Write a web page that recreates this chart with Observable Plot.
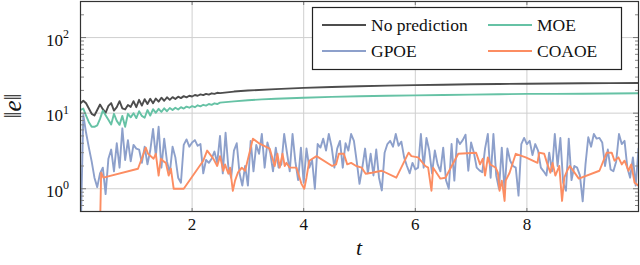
<!DOCTYPE html>
<html><head><meta charset="utf-8">
<script src="https://cdn.jsdelivr.net/npm/d3@7"></script>
<script src="https://cdn.jsdelivr.net/npm/@observablehq/plot@0.6"></script>
<style>
body{margin:0;background:#fff;}
#chart{position:relative;width:640px;height:265px;}
</style></head><body><div id="chart"></div>
<script>
// ---- data ----
const seriesNames = ["No prediction", "MOE", "GPOE", "COAOE"];
const seriesColors = ["#4d4d4d", "#66c2a5", "#8da0cb", "#fc8d62"];
const denseStep = 0.05;

// No prediction: dense samples t = 0, 0.05, ... 2.5, then sparse tail
const noPredDense = [13.5,14.6,13.5,11.5,9.8,9.3,11.0,13.0,11.3,10.1,12.5,13.6,10.8,12.0,14.4,11.6,11.2,12.8,12.1,14.4,12.0,15.0,12.6,15.3,13.2,15.5,13.5,15.6,14.2,16.0,14.6,16.2,15.0,16.3,15.4,16.5,15.8,16.8,16.2,17.0,16.6,17.4,17.0,17.7,17.3,18.0,17.6,18.3,18.0,18.6,18.4];
const noPredTailT = [2.75,3.0,3.5,4.0,4.5,5.0,5.5,6.0,6.5,7.0,7.5,8.0,8.5,9.0,9.5,10.0];
const noPredTail = [19.3,19.9,20.8,21.6,22.2,22.7,23.1,23.5,23.8,24.1,24.3,24.5,24.7,24.9,25.0,25.1];

// MOE
const moeDense = [11.0,11.5,9.3,7.6,6.6,6.6,6.9,8.4,10.8,9.4,8.2,7.1,9.8,7.9,7.0,9.2,6.6,9.8,8.8,10.0,8.6,10.6,9.2,8.7,11.0,9.3,11.3,10.1,11.4,10.4,11.6,10.6,11.7,11.0,11.8,11.2,12.0,11.5,12.2,11.8,12.4,12.0,12.7,12.3,12.9,12.6,13.2,12.9,13.5,13.2,13.8];
const moeTailT = [2.75,3.0,3.25,3.5,4.0,4.5,5.0,5.5,6.0,6.5,7.0,7.5,8.0,8.5,9.0,9.5,10.0];
const moeTail = [14.3,14.8,15.2,15.5,16.0,16.4,16.7,17.0,17.2,17.4,17.6,17.8,18.0,18.0,18.1,18.2,18.3];

// GPOE: t = 0, 0.05, ... 10
const gpoe = [0.2,
9.5,5.5,3.5,2.3,1.4,1.05,1.6,1.9,0.85,2.5,3.3,1.7,4.0,1.9,6.3,2.4,4.4,2.3,3.8,3.4,
3.3,2.2,3.6,2.1,3.2,6.2,2.7,6.6,1.9,4.6,2.3,1.6,3.6,2.6,1.4,1.2,3.8,4.5,3.6,4.1,
4.4,3.7,3.9,1.6,2.4,2.2,2.5,3.1,2.2,5.0,1.6,5.5,1.9,1.4,3.2,4.0,1.6,1.1,2.0,1.1,
4.3,1.7,3.8,2.9,5.3,1.9,4.1,3.0,1.7,3.5,1.9,2.1,5.3,3.0,1.7,5.3,2.3,1.3,3.5,1.2,
3.4,1.9,2.4,1.0,3.9,3.5,4.6,3.2,5.3,3.6,1.9,3.4,4.3,1.9,4.0,3.2,5.3,4.3,2.3,1.16,
1.9,3.4,1.6,2.9,1.5,3.3,1.4,0.95,3.0,3.9,4.3,3.6,5.3,3.7,4.2,2.6,2.0,1.6,2.2,1.8,
1.9,5.3,1.9,4.7,3.2,1.6,3.2,2.1,1.7,3.5,1.3,1.0,3.9,1.28,4.6,3.9,4.4,5.2,1.73,4.1,
3.0,1.9,1.75,1.65,3.4,5.3,1.4,5.3,1.5,1.0,3.5,0.94,3.4,2.35,2.0,1.9,0.81,3.9,4.7,3.9,
4.3,2.8,3.9,3.2,1.9,1.7,1.5,3.0,1.7,5.3,2.0,4.7,1.2,0.94,4.6,1.3,2.0,1.9,1.5,0.68,
2.1,4.8,3.6,5.3,4.6,4.7,4.1,2.0,3.3,1.8,1.7,2.3,5.3,3.9,4.3,1.9,1.4,2.6,1.1,3.4];

// COAOE: irregular sample times
const coaoeT = [0.35,0.37,0.41,1.03,1.17,1.21,1.31,1.35,1.40,1.44,1.49,1.53,1.58,1.62,1.67,1.85,2.20,2.27,2.38,2.45,2.50,2.56,2.59,2.65,2.68,2.73,2.77,2.82,2.89,2.95,3.09,3.21,3.39,3.48,3.53,3.57,3.62,3.66,3.69,3.75,3.87,3.96,4.01,4.05,4.10,4.23,4.51,4.58,4.63,4.72,4.78,4.85,4.94,5.04,5.11,5.22,5.40,5.66,5.88,5.93,6.05,6.18,6.23,6.29,6.32,6.45,6.54,6.77,7.09,7.16,7.21,7.25,7.30,7.34,7.39,7.44,7.48,7.51,7.55,7.57,7.60,7.62,7.69,7.80,7.98,8.19,8.22,8.31,8.36,8.42,8.46,8.51,8.58,8.63,8.67,8.72,8.77,8.93,9.30,9.43,9.52,9.57,9.64,9.70,9.75,9.82,9.87,9.93,10.0];
const coaoe = [0.3,1.63,1.40,1.84,3.5,2.9,2.5,2.9,1.49,2.5,2.3,2.2,1.49,1.84,1.0,1.0,2.35,3.2,2.5,2.0,2.7,1.73,2.1,1.58,1.9,0.94,1.28,1.63,1.9,1.73,4.6,3.95,3.4,2.0,2.9,1.9,2.9,2.0,2.2,1.9,1.9,1.16,1.0,1.40,2.35,2.7,2.0,2.1,2.9,2.9,2.1,2.2,2.0,1.9,1.58,1.63,1.73,1.40,3.0,2.7,2.6,2.0,1.9,0.94,1.9,1.36,1.40,2.9,3.0,2.1,2.5,1.49,2.6,2.1,2.0,1.9,1.63,0.94,1.28,1.03,0.69,1.28,1.63,2.9,2.6,2.2,3.0,2.9,2.2,1.63,2.2,1.49,2.0,0.69,1.40,1.73,2.0,1.36,1.73,3.0,3.0,2.35,2.6,2.1,2.35,1.73,2.1,1.2,1.1];

// ticks
const xTicks = [2, 4, 6, 8];
const yTicks = [1, 10, 100];
const yTickExponents = ["0", "1", "2"];
const yMinorTicks = [0.6,0.7,0.8,0.9,2,3,4,5,6,7,8,9,20,30,40,50,60,70,80,90,200,300];

// ---- build rows ----
const rows = [];
noPredDense.forEach((v, i) => rows.push({t: i * denseStep, v, s: seriesNames[0]}));
noPredTail.forEach((v, i) => rows.push({t: noPredTailT[i], v, s: seriesNames[0]}));
moeDense.forEach((v, i) => rows.push({t: i * denseStep, v, s: seriesNames[1]}));
moeTail.forEach((v, i) => rows.push({t: moeTailT[i], v, s: seriesNames[1]}));
gpoe.forEach((v, i) => rows.push({t: i * denseStep, v, s: seriesNames[2]}));
coaoe.forEach((v, i) => rows.push({t: coaoeT[i], v, s: seriesNames[3]}));

const font = "'Liberation Serif', 'Times New Roman', serif";
const gridColor = "#cfcfcf";
const frameColor = "#333";

const plot = Plot.plot({
  width: 640, height: 265,
  marginLeft: 80, marginRight: 2, marginTop: 1, marginBottom: 54,
  style: {fontFamily: font, fontSize: "17px", color: "#111", background: "white"},
  x: {domain: [0, 10]},
  y: {type: "log", domain: [0.5, 300]},
  color: {domain: seriesNames, range: seriesColors},
  marks: [
    Plot.gridX(xTicks, {stroke: gridColor, strokeOpacity: 1, strokeWidth: 1}),
    Plot.gridY(yTicks, {stroke: gridColor, strokeOpacity: 1, strokeWidth: 1}),
    Plot.line(rows, {x: "t", y: "v", z: "s", stroke: "s", strokeWidth: 1.9, clip: true}),
    // inward ticks
    Plot.axisY(yTicks, {anchor: "right", frameAnchor: "left", tickSize: 5, fill: "none", label: null, stroke: "#777"}),
    Plot.axisY(yTicks, {anchor: "left", frameAnchor: "right", tickSize: 5, fill: "none", label: null, stroke: "#777"}),
    Plot.axisY(yMinorTicks, {anchor: "right", frameAnchor: "left", tickSize: 3, fill: "none", label: null, stroke: "#888"}),
    Plot.axisY(yMinorTicks, {anchor: "left", frameAnchor: "right", tickSize: 3, fill: "none", label: null, stroke: "#888"}),
    Plot.axisX(xTicks, {anchor: "top", frameAnchor: "bottom", tickSize: 4, fill: "none", label: null, stroke: "#777"}),
    Plot.axisX(xTicks, {anchor: "bottom", frameAnchor: "top", tickSize: 4, fill: "none", label: null, stroke: "#777"}),
    // x tick labels
    Plot.axisX(xTicks, {anchor: "bottom", tickSize: 0, tickPadding: 6, label: null, fontSize: 17}),
    Plot.frame({stroke: frameColor, strokeWidth: 1.2})
  ]
});

document.getElementById("chart").appendChild(plot);

const svg = d3.select(plot);
const sy = plot.scale("y");

// y tick labels with superscripts
const yl = svg.append("g").attr("style", `font-family:${font}`).attr("fill", "#111");
yTicks.forEach((v, i) => {
  const y = sy.apply(v);
  const t = yl.append("text").attr("x", 69).attr("y", y + 8.5).attr("text-anchor", "end").attr("font-size", 17);
  t.append("tspan").text("10");
  t.append("tspan").attr("dy", -7.5).attr("font-size", 12).text(yTickExponents[i]);
});

// axis titles
const yt = svg.append("text")
  .attr("transform", "translate(12,106) rotate(-90)")
  .attr("text-anchor", "middle").attr("dominant-baseline", "central")
  .attr("style", `font-family:${font}`).attr("font-size", 25).attr("fill", "#111");
yt.append("tspan").text("\u2016");
yt.append("tspan").attr("font-style", "italic").text("e");
yt.append("tspan").text("\u2016");

svg.append("text").attr("x", 359).attr("y", 255).attr("text-anchor", "middle")
  .attr("style", `font-family:${font}`).attr("font-size", 22).attr("font-style", "italic")
  .attr("fill", "#111").text("t");

// legend
const lg = svg.append("g").attr("style", `font-family:${font}`).attr("font-size", 17.5).attr("fill", "#111");
lg.append("rect").attr("x", 312.5).attr("y", 7.5).attr("width", 309).attr("height", 62)
  .attr("fill", "white").attr("stroke", "#222").attr("stroke-width", 1.2);
const legendItems = [
  {i: 0, x: 322, y: 25}, {i: 1, x: 488, y: 25},
  {i: 2, x: 322, y: 51}, {i: 3, x: 488, y: 51}
];
legendItems.forEach(d => {
  lg.append("line").attr("x1", d.x).attr("x2", d.x + 44).attr("y1", d.y).attr("y2", d.y)
    .attr("stroke", seriesColors[d.i]).attr("stroke-width", 1.9);
  lg.append("text").attr("x", d.x + 49).attr("y", d.y + 6).attr("text-anchor", "start")
    .text(seriesNames[d.i]);
});
</script>
</body></html>
